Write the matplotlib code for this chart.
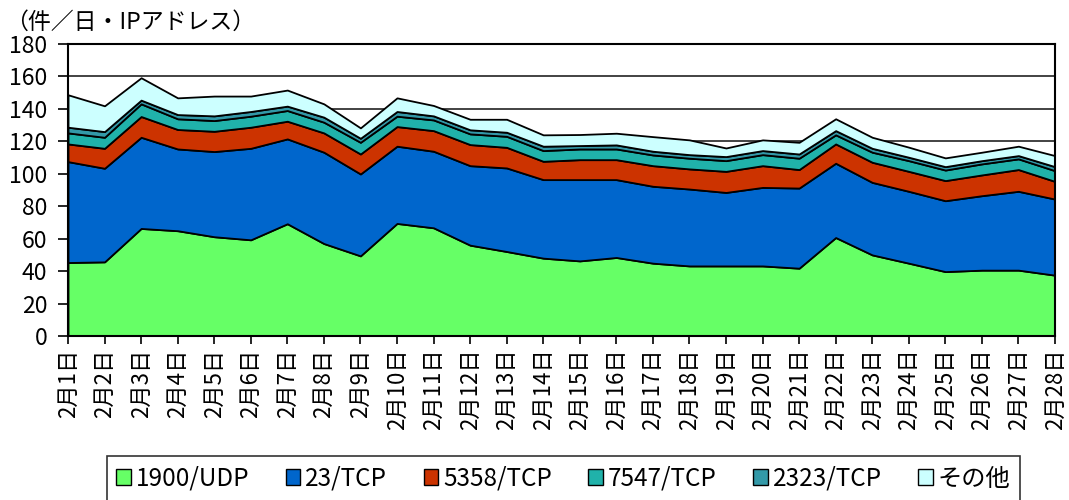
import matplotlib
matplotlib.use("Agg")
import matplotlib.pyplot as plt
from matplotlib.patches import Patch

plt.rcParams["font.family"] = ["Noto Sans CJK JP", "DejaVu Sans"]

days = [f"2月{d}日" for d in range(1, 29)]

udp_1900 = [45.3, 45.7, 66.3, 64.9, 61.2, 59.3, 69.2, 57.0, 49.4, 69.4, 66.7, 56.0, 52.1, 48.0,
            46.3, 48.4, 44.9, 43.2, 43.2, 43.2, 41.8, 60.7, 50.0, 44.9, 39.7, 40.6, 40.6, 37.5]
tcp_23 = [62.2, 57.7, 56.2, 50.4, 52.5, 56.4, 52.3, 56.3, 50.5, 47.6, 47.2, 49.0, 51.5, 48.4,
          50.1, 48.0, 47.4, 47.4, 45.3, 48.4, 49.4, 45.8, 44.7, 44.3, 43.7, 45.9, 48.6, 46.9]
tcp_5358 = [10.9, 12.3, 12.8, 12.0, 12.5, 13.0, 10.9, 11.9, 12.3, 12.1, 12.7, 13.0, 12.7, 11.3,
            12.3, 12.3, 12.7, 12.4, 13.0, 13.4, 11.4, 11.9, 12.4, 12.3, 12.4, 12.8, 13.4, 10.9]
tcp_7547 = [6.8, 6.8, 7.8, 6.6, 6.6, 6.8, 6.6, 6.6, 7.2, 6.4, 6.6, 6.6, 6.8, 6.6,
            6.6, 6.6, 6.6, 6.6, 6.6, 6.8, 7.0, 5.6, 6.2, 6.6, 6.5, 6.8, 6.6, 6.6]
tcp_2323 = [3.5, 3.5, 2.3, 2.6, 2.9, 2.9, 2.7, 3.1, 2.5, 2.9, 2.5, 2.5, 2.5, 2.7,
            2.1, 2.5, 2.3, 2.2, 2.5, 2.5, 2.6, 2.6, 2.4, 2.1, 2.1, 2.0, 2.0, 2.5]
others = [20.0, 15.9, 13.8, 10.3, 12.2, 9.5, 9.9, 8.2, 6.4, 8.4, 6.4, 6.5, 8.0, 7.0,
          6.8, 7.2, 9.0, 9.1, 5.3, 6.6, 7.2, 7.3, 6.8, 6.2, 5.4, 5.2, 5.8, 6.8]

labels = ["1900/UDP", "23/TCP", "5358/TCP", "7547/TCP", "2323/TCP", "その他"]
colors = ["#66FF66", "#0066CC", "#CC3300", "#20B2AA", "#3399A8", "#CCFFFF"]

fig = plt.figure(figsize=(10.69, 5.0), dpi=100)
ax = fig.add_axes([68 / 1069, 1 - 336 / 500, (1055 - 68) / 1069, (336 - 44) / 500])

x = list(range(len(days)))
series = [udp_1900, tcp_23, tcp_5358, tcp_7547, tcp_2323, others]
ax.stackplot(x, *series, colors=colors, edgecolor="black", linewidth=1.3, zorder=2)

ax.set_xlim(0, len(days) - 1)
ax.set_ylim(0, 180)
ax.set_yticks(range(0, 181, 20))
ax.set_xticks(x)
ax.set_xticklabels(days, rotation=90, fontsize=16)
ax.tick_params(axis="y", labelsize=16.5, direction="out", length=7, width=1.2, pad=8)
ax.tick_params(axis="x", direction="out", length=6, width=1.2, pad=3)
ax.yaxis.grid(True, color="#222222", linewidth=1.2, zorder=0)
ax.set_axisbelow(True)
for s in ax.spines.values():
    s.set_linewidth(1.5)

fig.text(0.005, 0.955, "（件／日・IPアドレス）", fontsize=16.5, va="center", ha="left")

handles = [Patch(facecolor=c, edgecolor="black", linewidth=1.0) for c in colors]
leg = fig.legend(handles, labels, loc="upper center", bbox_to_anchor=(0.527, 0.088),
                 ncol=6, fontsize=17.5, frameon=True, fancybox=False, edgecolor="black",
                 handlelength=0.6, handleheight=0.6, handletextpad=0.2, columnspacing=1.5,
                 borderpad=0.4, borderaxespad=0)
leg.get_frame().set_linewidth(1.2)

fig.savefig("out.png", dpi=100, facecolor="white")
